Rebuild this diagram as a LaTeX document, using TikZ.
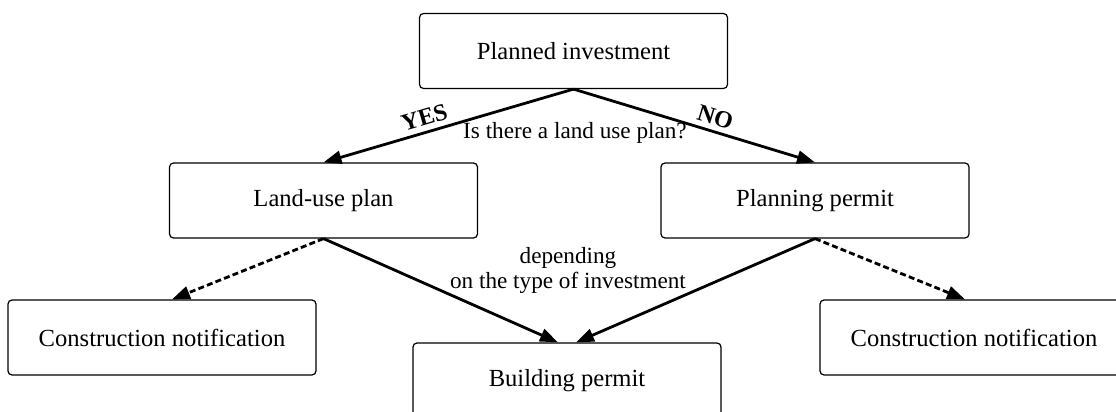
\documentclass[tikz,border=0pt]{standalone}
\usepackage{fontspec}
\setmainfont{Liberation Serif}
\usetikzlibrary{arrows.meta}
\begin{document}
\begin{tikzpicture}[x = .5pt, y = -.5pt,
		box/.style = {draw, line width = .6pt, rounded corners = 2pt, minimum width = 154pt, minimum height = 37.5pt, font = \fontsize{12.3}{14}\selectfont},
		arr/.style = {line width = 1.4pt, -{Triangle[length = 9pt, width = 6.5pt]}},
		dsh/.style = {arr, dash pattern = on 3pt off 1.6pt},
		note/.style = {font = \fontsize{11.6}{12.5}\selectfont, align = center, inner sep = 0pt},
		yn/.style = {font = \fontsize{12}{14}\selectfont\bfseries, inner sep = 0pt, above = 2.5pt, sloped}]
	\useasboundingbox (0, 0) rectangle (1116, 412);
	% boxes
	\node[box] (inv) at (573.5, 51) {Planned investment};
	\node[box] (lup) at (323.5, 200.5) {Land-use plan};
	\node[box] (pp) at (815, 200.5) {Planning permit};
	\node[box] (cnl) at (162, 337.5) {Construction notification};
	\node[box] (cnr) at (974, 337.5) {Construction notification};
	\node[box] (bp) at (567, 380.5) {Building permit};
	% texts
	\node[note] (q) at (575, 133) {Is there a land use plan?};
	\node[note] (dep) at (568, 270) {depending\\on the type of investment};
	% arrows
	\draw[arr, {Triangle[length = 9pt, width = 6.5pt]}-] (lup.north) -- (inv.south) node[pos = .42, yn]{YES};
	\draw[arr] (inv.south) -- (pp.north) node[pos = .57, yn]{NO};
	\draw[dsh] (lup.south) -- ([xshift = 5pt]cnl.north);
	\draw[arr] (lup.south) -- ([xshift = -4.5pt]bp.north);
	\draw[arr] (pp.south) -- ([xshift = 4.5pt]bp.north);
	\draw[dsh] (pp.south) -- ([xshift = -4.5pt]cnr.north);
\end{tikzpicture}
\end{document}
